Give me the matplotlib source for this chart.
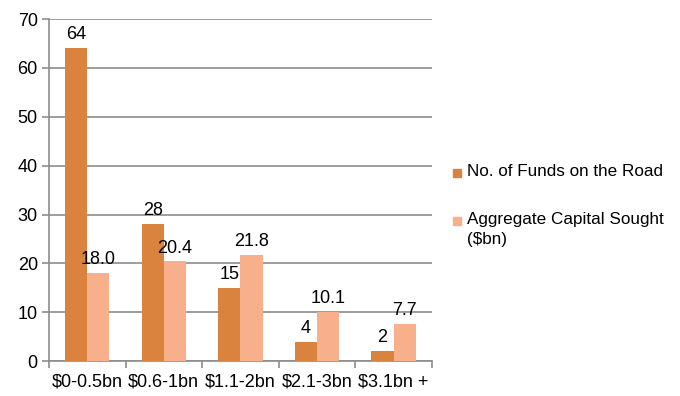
import numpy as np
import matplotlib
matplotlib.use("Agg")
import matplotlib.pyplot as plt
from matplotlib.patches import Rectangle

categories = ["$0-0.5bn", "$0.6-1bn", "$1.1-2bn", "$2.1-3bn", "$3.1bn +"]
funds = [64, 28, 15, 4, 2]
capital = [18.0, 20.4, 21.8, 10.1, 7.7]
series_labels = ["No. of Funds on the Road", "Aggregate Capital Sought\n($bn)"]

ORANGE = "#D9833F"
PEACH = "#F8AF8B"
GRID = "#8C8C8C"

plt.rcParams["font.family"] = ["Liberation Sans", "DejaVu Sans"]
plt.rcParams["font.size"] = 13

W, H = 680, 396
fig = plt.figure(figsize=(W / 100, H / 100), dpi=100)
ax = fig.add_axes([0.072, 0.088, 0.563, 0.864])

x = np.arange(len(categories))
w = 0.29
ax.bar(x - w / 2, funds, w, color=ORANGE, zorder=3)
ax.bar(x + w / 2, capital, w, color=PEACH, zorder=3)

for i, v in enumerate(funds):
    ax.text(x[i] - w / 2, v + 1.0, f"{v}", ha="center", va="bottom")
for i, v in enumerate(capital):
    ax.text(x[i] + w / 2, v + 1.0, f"{v:.1f}", ha="center", va="bottom")

ax.set_xlim(-0.5, len(categories) - 0.5)
ax.set_ylim(0, 70)
ax.set_yticks(range(0, 71, 10))
ax.yaxis.grid(True, color=GRID, lw=1.2, zorder=0)
ax.set_xticks(np.arange(-0.5, len(categories), 1), minor=False)
ax.set_xticklabels([])
ax.set_xticks(x, minor=True)
ax.set_xticklabels(categories, minor=True)
ax.tick_params(axis="x", which="major", length=5, color=GRID, width=1.2)
ax.tick_params(axis="x", which="minor", length=0, pad=9)
ax.tick_params(axis="y", length=5, color=GRID, width=1.2, pad=3)

for s in ["top", "right"]:
    ax.spines[s].set_visible(False)
for s in ["left", "bottom"]:
    ax.spines[s].set_color(GRID)
    ax.spines[s].set_linewidth(1.2)

# legend drawn by hand so the square lines up with the first text line
for label, color, ypx in zip(series_labels, (ORANGE, PEACH), (173, 221)):
    fig.patches.append(Rectangle((453 / W, 1 - (ypx + 4) / H), 8 / W, 8 / H,
                                 transform=fig.transFigure, color=color))
    fig.text(467 / W, 1 - (ypx - 9) / H, label, ha="left", va="top",
             fontsize=12.3, linespacing=1.45)

fig.savefig("out.png", dpi=100)
